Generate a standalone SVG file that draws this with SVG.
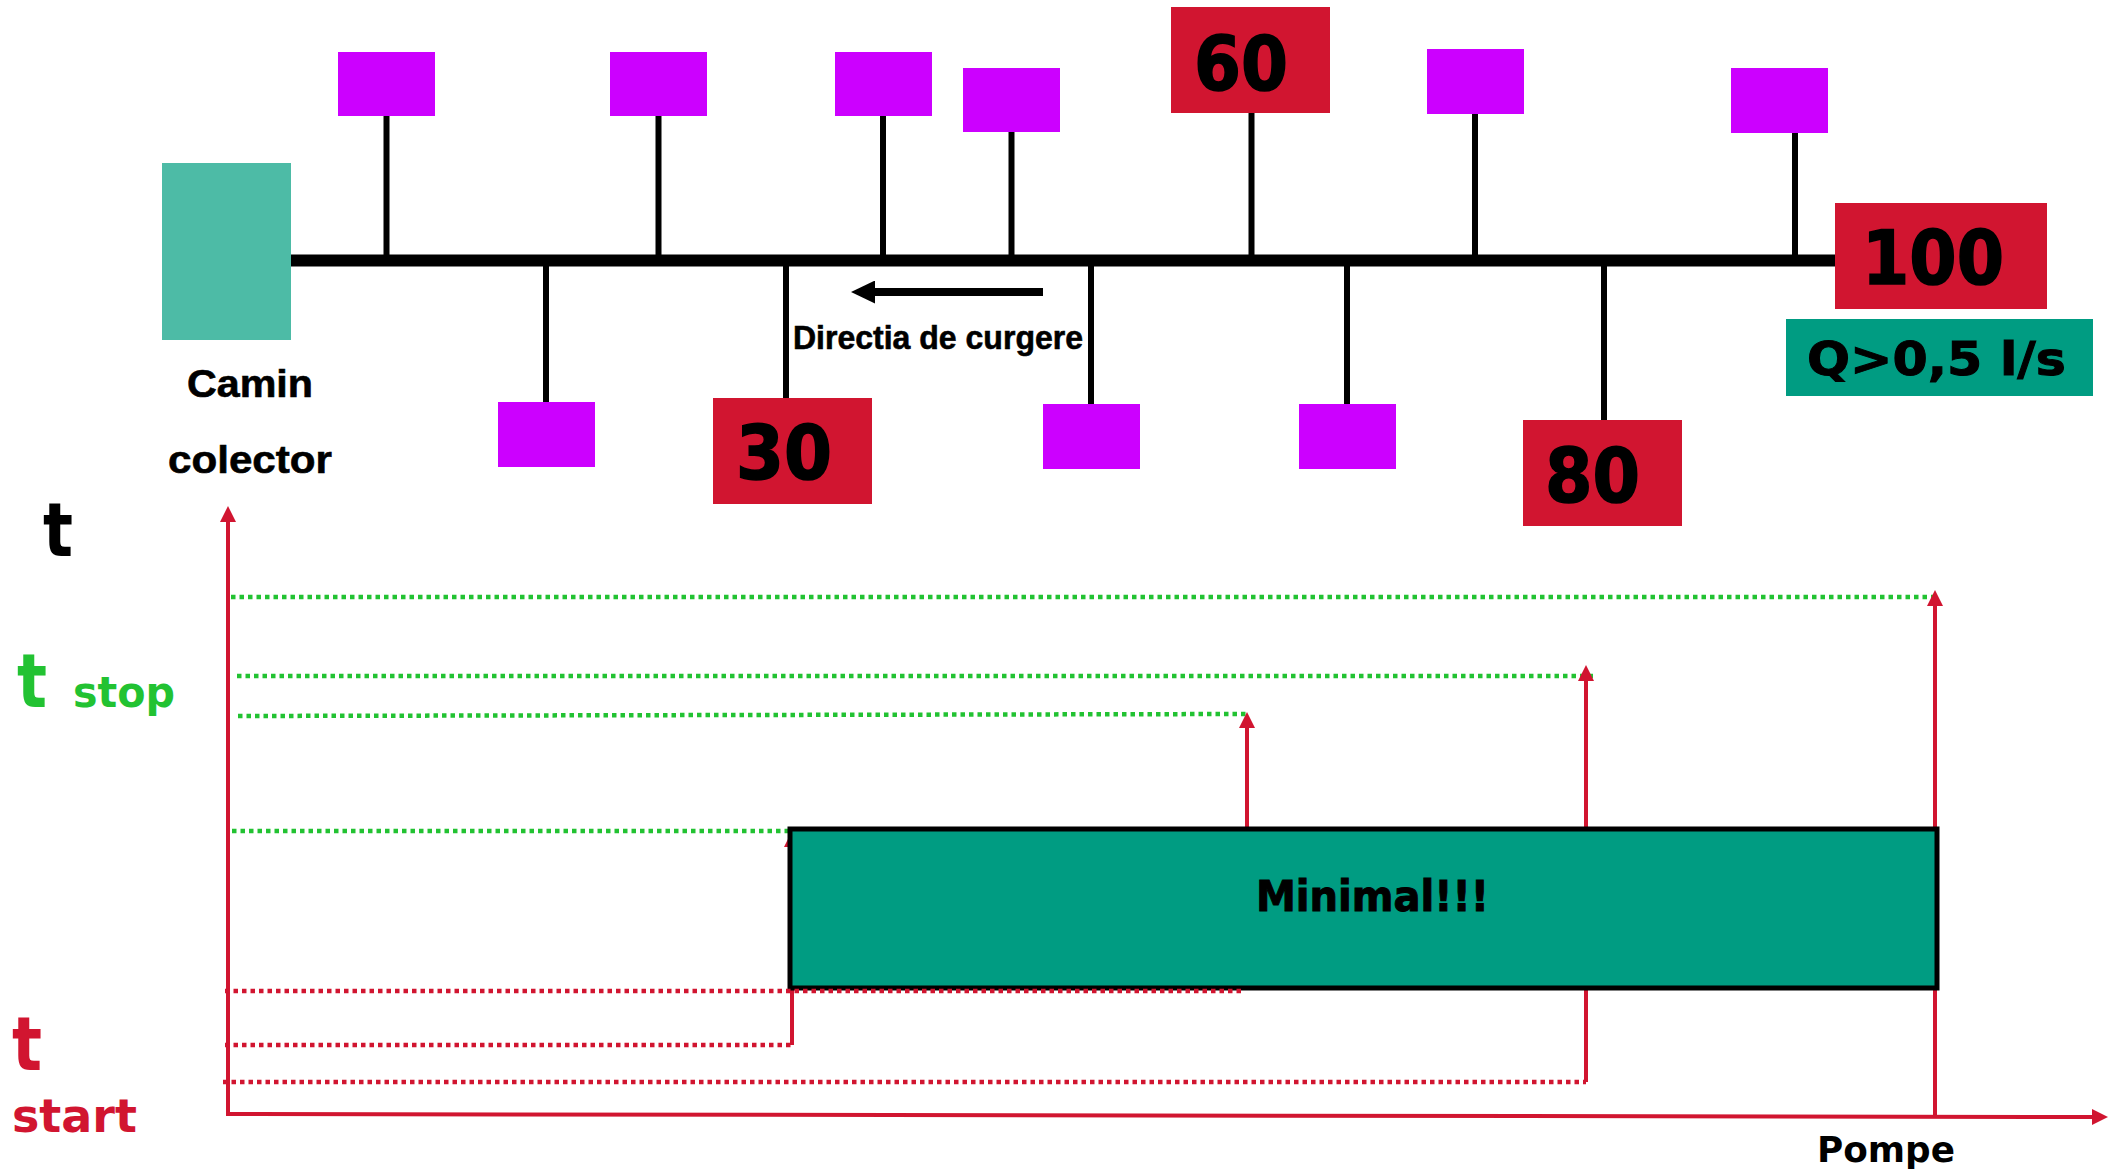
<svg xmlns="http://www.w3.org/2000/svg" width="2114" height="1169" viewBox="0 0 2114 1169">
  <defs>
    <style>
      .main{stroke:#000;stroke-width:12;fill:none}
      .pipe{stroke:#000;stroke-width:6;fill:none}
      .cons{fill:#CC00FF}
      .meter{fill:#D11530}
      .num{font-family:"DejaVu Sans",Verdana,sans-serif;font-weight:bold;fill:#000}
      .heavy{stroke:#000;stroke-width:1.6}
      .lbl{font-family:"Liberation Sans",Arial,sans-serif;font-weight:bold;fill:#000;stroke:#000;stroke-width:0.6}
      .gdot{stroke:#22C232;stroke-width:4.5;stroke-dasharray:4.5 4;fill:none}
      .rdot{stroke:#D11530;stroke-width:4.5;stroke-dasharray:4.5 4;fill:none}
      .rarrow{stroke:#D11530;stroke-width:4;fill:none;marker-end:url(#ah)}
    </style>
    <marker id="ah" markerUnits="userSpaceOnUse" markerWidth="16" markerHeight="16" refX="4" refY="8" orient="auto">
      <path d="M0,0 L16,8 L0,16 z" fill="#D11530"/>
    </marker>
    <marker id="flow" markerUnits="userSpaceOnUse" markerWidth="24" markerHeight="23" refX="2" refY="11.5" orient="auto">
      <path d="M0,0 L24,11.5 L0,23 z" fill="#000"/>
    </marker>
  </defs>

  <rect width="2114" height="1169" fill="#fff"/>

  <!-- sewer line and branch pipes -->
  <g id="connectors">
    <line class="main" x1="291" y1="260.5" x2="1836" y2="260.5"/>
    <line class="pipe" x1="386.5" y1="116" x2="386.5" y2="256"/>
    <line class="pipe" x1="658.5" y1="116" x2="658.5" y2="256"/>
    <line class="pipe" x1="883" y1="116" x2="883" y2="256"/>
    <line class="pipe" x1="1011.5" y1="132" x2="1011.5" y2="256"/>
    <line class="pipe" x1="1251.5" y1="113" x2="1251.5" y2="256"/>
    <line class="pipe" x1="1475" y1="114" x2="1475" y2="256"/>
    <line class="pipe" x1="1795" y1="133" x2="1795" y2="256"/>
    <line class="pipe" x1="546" y1="265" x2="546" y2="402"/>
    <line class="pipe" x1="786" y1="265" x2="786" y2="398"/>
    <line class="pipe" x1="1091" y1="265" x2="1091" y2="404"/>
    <line class="pipe" x1="1347" y1="265" x2="1347" y2="404"/>
    <line class="pipe" x1="1604" y1="265" x2="1604" y2="420"/>
    <!-- flow direction -->
    <line x1="1043" y1="292" x2="873" y2="292" stroke="#000" stroke-width="8" marker-end="url(#flow)"/>
  </g>
  <text class="lbl" x="793" y="349" font-size="33" textLength="290" lengthAdjust="spacingAndGlyphs">Directia de curgere</text>

  <!-- collector manhole -->
  <g id="camin">
    <rect x="162" y="163" width="129" height="177" fill="#4DBBA6"/>
    <text class="lbl" x="187" y="397" font-size="38" textLength="126" lengthAdjust="spacingAndGlyphs">Camin</text>
    <text class="lbl" x="168" y="473" font-size="38" textLength="164" lengthAdjust="spacingAndGlyphs">colector</text>
  </g>

  <!-- consumers above the line -->
  <g id="c1"><rect class="cons" x="338" y="52" width="97" height="64"/></g>
  <g id="c2"><rect class="cons" x="610" y="52" width="97" height="64"/></g>
  <g id="c3"><rect class="cons" x="835" y="52" width="97" height="64"/></g>
  <g id="c4"><rect class="cons" x="963" y="68" width="97" height="64"/></g>
  <g id="m60">
    <rect class="meter" x="1171" y="7" width="159" height="106"/>
    <text class="num heavy" x="1194" y="90" font-size="75" textLength="94" lengthAdjust="spacingAndGlyphs">60</text>
  </g>
  <g id="c5"><rect class="cons" x="1427" y="49" width="97" height="65"/></g>
  <g id="c6"><rect class="cons" x="1731" y="68" width="97" height="65"/></g>
  <g id="m100">
    <rect class="meter" x="1835" y="203" width="212" height="106"/>
    <text class="num heavy" x="1862" y="284" font-size="75" textLength="142" lengthAdjust="spacingAndGlyphs">100</text>
  </g>
  <g id="flowrate">
    <rect x="1786" y="319" width="307" height="77" fill="#009C82"/>
    <text class="num heavy" x="1807" y="375" font-size="46" textLength="259" lengthAdjust="spacingAndGlyphs" style="stroke-width:1">Q&gt;0,5 l/s</text>
  </g>

  <!-- consumers below the line -->
  <g id="c7"><rect class="cons" x="498" y="402" width="97" height="65"/></g>
  <g id="m30">
    <rect class="meter" x="713" y="398" width="159" height="106"/>
    <text class="num heavy" x="736" y="479" font-size="75" textLength="96" lengthAdjust="spacingAndGlyphs">30</text>
  </g>
  <g id="c8"><rect class="cons" x="1043" y="404" width="97" height="65"/></g>
  <g id="c9"><rect class="cons" x="1299" y="404" width="97" height="65"/></g>
  <g id="m80">
    <rect class="meter" x="1523" y="420" width="159" height="106"/>
    <text class="num heavy" x="1545" y="502" font-size="75" textLength="95" lengthAdjust="spacingAndGlyphs">80</text>
  </g>

  <!-- time chart -->
  <g id="chart">
    <!-- axes -->
    <line class="rarrow" x1="228" y1="1115" x2="228" y2="518"/>
    <line class="rarrow" x1="226" y1="1114" x2="2096" y2="1117"/>

    <!-- stop levels -->
    <line class="gdot" x1="231" y1="597" x2="1935" y2="597"/>
    <line class="gdot" x1="237" y1="676" x2="1596" y2="676"/>
    <line class="gdot" x1="238" y1="716" x2="1247" y2="714"/>
    <line class="gdot" x1="232" y1="831" x2="790" y2="831"/>

    <!-- pump run arrows -->
    <line class="rarrow" x1="792" y1="1045" x2="792" y2="843"/>
    <line class="rarrow" x1="1247" y1="990" x2="1247" y2="724"/>
    <line class="rarrow" x1="1586" y1="1082" x2="1586" y2="677"/>
    <line class="rarrow" x1="1935" y1="1116" x2="1935" y2="602"/>

    <!-- minimal run window -->
    <g id="minimal">
      <rect x="790" y="829" width="1147" height="159" fill="#009C82" stroke="#000" stroke-width="5"/>
      <text class="num heavy" x="1256" y="911" font-size="42" textLength="233" lengthAdjust="spacingAndGlyphs" style="stroke-width:1">Minimal!!!</text>
    </g>

    <!-- start levels -->
    <line class="rdot" x1="225" y1="991" x2="1243" y2="991"/>
    <line class="rdot" x1="225" y1="1045" x2="792" y2="1045"/>
    <line class="rdot" x1="223" y1="1082" x2="1586" y2="1082"/>
  </g>

  <!-- axis labels -->
  <text class="num" x="43" y="556" font-size="74" textLength="30" lengthAdjust="spacingAndGlyphs">t</text>
  <text class="num" x="17" y="707" font-size="74" textLength="30" lengthAdjust="spacingAndGlyphs" style="fill:#22C232">t</text>
  <text class="num" x="73" y="707" font-size="42" textLength="102" lengthAdjust="spacingAndGlyphs" style="fill:#22C232">stop</text>
  <text class="num" x="12" y="1070" font-size="74" textLength="30" lengthAdjust="spacingAndGlyphs" style="fill:#D11530">t</text>
  <text class="num" x="12" y="1132" font-size="46" textLength="125" lengthAdjust="spacingAndGlyphs" style="fill:#D11530">start</text>
  <text class="num" x="1817" y="1162" font-size="36" textLength="138" lengthAdjust="spacingAndGlyphs">Pompe</text>
</svg>
